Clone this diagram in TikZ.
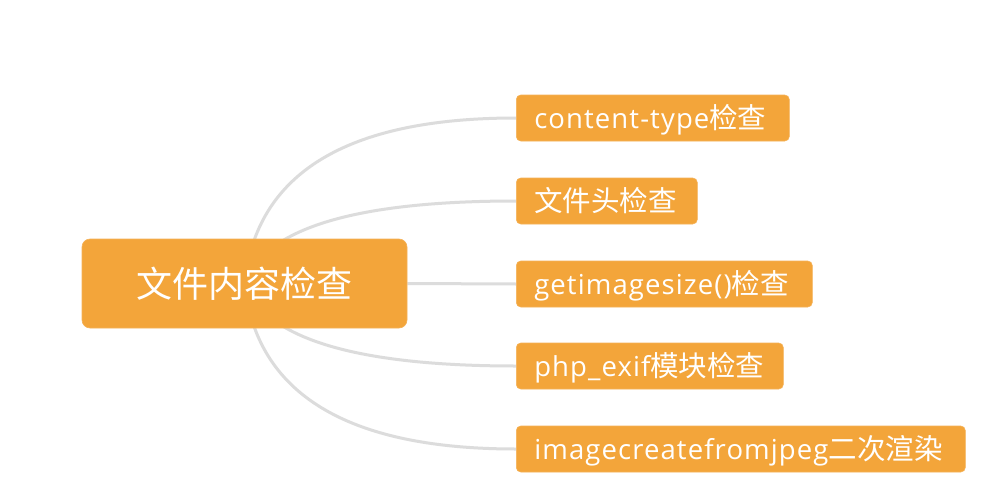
\documentclass[tikz,border=0pt]{standalone}
\usepackage{fontspec}
\setmainfont{Open Sans}[LetterSpace=4]
\newfontfamily\cjk{Noto Sans CJK SC}
\usetikzlibrary{backgrounds}
\definecolor{nodeorange}{HTML}{F3A53A}
\definecolor{linkgrey}{HTML}{DCDCDC}
\newcommand{\zh}[1]{{\cjk\fontsize{28.5}{32}\selectfont #1}}
\tikzset{
  x=1pt, y=-1pt,
  rootbox/.style={fill=nodeorange, draw=nodeorange!85!white, line width=0.6pt, rounded corners=8pt,
    minimum width=325pt, minimum height=89pt, inner sep=0pt, text=white,
    font=\cjk\fontsize{36}{40}\selectfont, text height=31.7pt, text depth=4.3pt},
  leafbox/.style={fill=nodeorange, draw=nodeorange!85!white, line width=0.6pt, rounded corners=4.5pt,
    minimum height=46pt, inner xsep=18pt, inner ysep=0pt, text=white, align=left, anchor=west,
    font=\fontsize{27.5}{30}\selectfont, text height=25.1pt, text depth=3.4pt},
  link/.style={draw=linkgrey, line width=3pt}
}
\begin{document}
\begin{tikzpicture}
\useasboundingbox (0,0) rectangle (985,495);
\node[rootbox] (root) at (244.5,283.5) {文件内容检查};
\node[leafbox, text width=237pt] (a) at (516,118) {\mbox{content-type\zh{检查}}};
\node[leafbox, text width=145pt] (b) at (516,201) {\mbox{\zh{文件头检查}}};
\node[leafbox, text width=260pt] (c) at (516,284) {\mbox{getimagesize()\zh{检查}}};
\node[leafbox, text width=231pt] (d) at (516,366) {\mbox{php\_exif\zh{模块检查}}};
\node[leafbox, text width=413pt] (e) at (516,449) {\mbox{imagecreatefromjpeg\zh{二次渲染}}};
\begin{pgfonlayer}{background}
\fill[white] (0,0) rectangle (985,495);
\draw[link] (root.center) .. controls (256.3,173) and (346.7,118) .. (a.west);
\draw[link] (root.center) .. controls (264.7,228.3) and (355,201) .. (b.west);
\draw[link] (root.east) -- (c.west);
\draw[link] (root.center) .. controls (264.7,338.3) and (355,366) .. (d.west);
\draw[link] (root.center) .. controls (256.3,393.7) and (346.7,449) .. (e.west);
\end{pgfonlayer}
\end{tikzpicture}
\end{document}
